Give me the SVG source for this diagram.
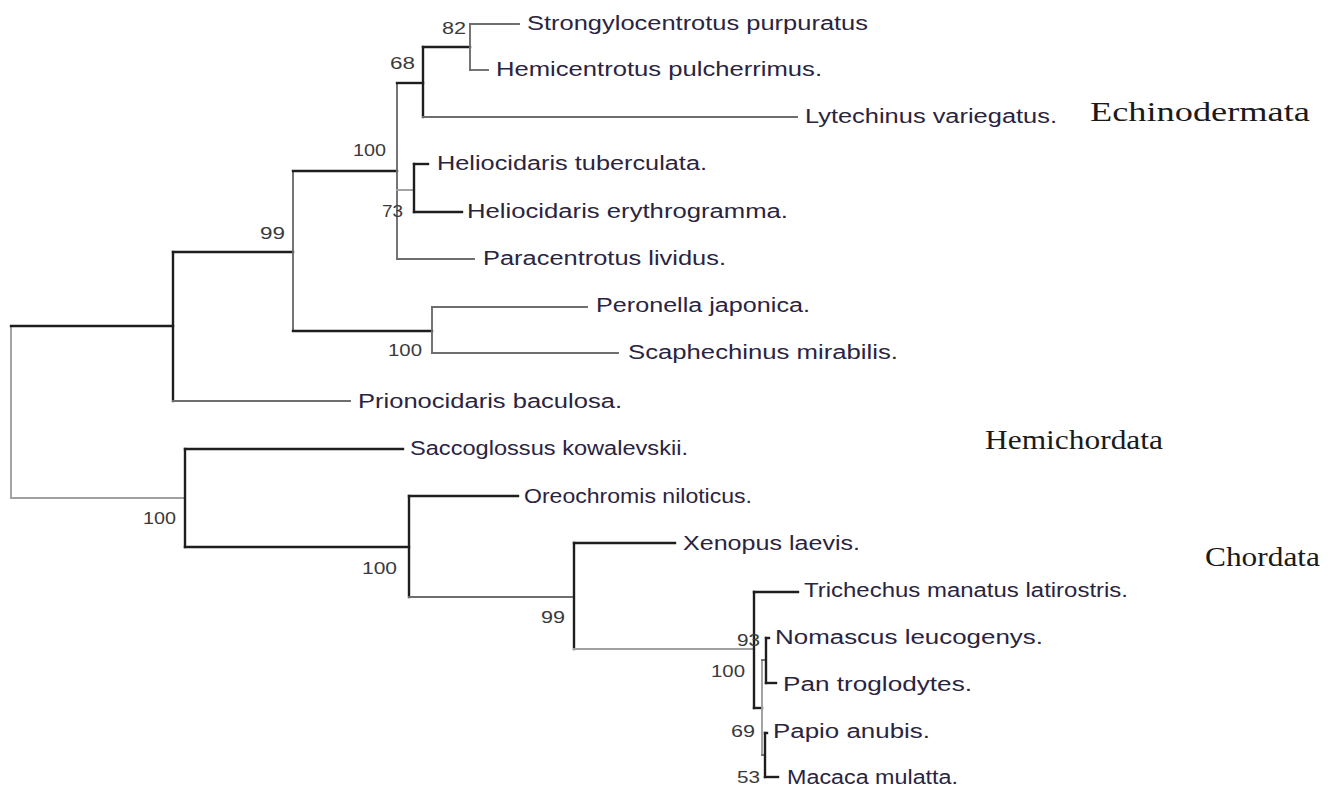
<svg xmlns="http://www.w3.org/2000/svg" width="1338" height="791" viewBox="0 0 1338 791">
<style>
.d{stroke:#1e1e1e;stroke-width:2.4;fill:none}
.g{stroke:#6e6e6e;stroke-width:1.9;fill:none}
.l{stroke:#a0a0a0;stroke-width:1.9;fill:none}
.t{font-family:"Liberation Sans",Arial,sans-serif;font-size:20px;fill:#2a2440}
.b{font-family:"Liberation Sans",Arial,sans-serif;font-size:16px;fill:#3a3a3a}
.c{font-family:"Liberation Serif","Times New Roman",serif;font-size:27px;fill:#1a1a1a}
</style>
<rect width="1338" height="791" fill="#ffffff"/>
<g id="connectors" stroke-linecap="square">
<path class="l" d="M11,326V498"/>
<path class="d" d="M11,326H173"/>
<path class="d" d="M173,252V401"/>
<path class="d" d="M173,252H293"/>
<path class="g" d="M293,171V331"/>
<path class="d" d="M293,171H397"/>
<path class="g" d="M397,83V259"/>
<path class="d" d="M397,83H423"/>
<path class="d" d="M423,47V117"/>
<path class="d" d="M423,47H470"/>
<path class="g" d="M470,24V70"/>
<path class="g" d="M470,24H519"/>
<path class="g" d="M470,70H488"/>
<path class="g" d="M423,117H797"/>
<path class="l" d="M397,190H414"/>
<path class="d" d="M414,164V212"/>
<path class="d" d="M414,164H428"/>
<path class="d" d="M414,212H462"/>
<path class="g" d="M397,259H474"/>
<path class="d" d="M293,331H432"/>
<path class="g" d="M432,307V353"/>
<path class="g" d="M432,307H587"/>
<path class="g" d="M432,353H618"/>
<path class="g" d="M173,401H350"/>
<path class="l" d="M11,498H185"/>
<path class="d" d="M185,449V547"/>
<path class="d" d="M185,449H403"/>
<path class="d" d="M185,547H409"/>
<path class="d" d="M409,496V597"/>
<path class="d" d="M409,496H518"/>
<path class="g" d="M409,597H574"/>
<path class="d" d="M574,543V649"/>
<path class="d" d="M574,543H675"/>
<path class="l" d="M574,649H754"/>
<path class="d" d="M754,592V708"/>
<path class="d" d="M754,592H798"/>
<path class="d" d="M754,708H762"/>
<path class="l" d="M762,660V755"/>
<path class="g" d="M762,660H766"/>
<path class="d" d="M766,638V683"/>
<path class="d" d="M766,638H769"/>
<path class="d" d="M766,683H776"/>
<path class="g" d="M762,755H765"/>
<path class="d" d="M765,733V777"/>
<path class="d" d="M765,733H767"/>
<path class="d" d="M765,777H778"/>
</g>
<g id="leaf-strongylocentrotus"><text class="t" x="527" y="30" textLength="341" lengthAdjust="spacingAndGlyphs">Strongylocentrotus purpuratus</text></g>
<g id="leaf-hemicentrotus"><text class="t" x="496" y="76" textLength="326" lengthAdjust="spacingAndGlyphs">Hemicentrotus pulcherrimus.</text></g>
<g id="leaf-lytechinus"><text class="t" x="805" y="123" textLength="252" lengthAdjust="spacingAndGlyphs">Lytechinus variegatus.</text></g>
<g id="leaf-heliocidaris-t"><text class="t" x="437" y="170" textLength="270" lengthAdjust="spacingAndGlyphs">Heliocidaris tuberculata.</text></g>
<g id="leaf-heliocidaris-e"><text class="t" x="467" y="218" textLength="321" lengthAdjust="spacingAndGlyphs">Heliocidaris erythrogramma.</text></g>
<g id="leaf-paracentrotus"><text class="t" x="483" y="265" textLength="243" lengthAdjust="spacingAndGlyphs">Paracentrotus lividus.</text></g>
<g id="leaf-peronella"><text class="t" x="596" y="312" textLength="214" lengthAdjust="spacingAndGlyphs">Peronella japonica.</text></g>
<g id="leaf-scaphechinus"><text class="t" x="628" y="359" textLength="270" lengthAdjust="spacingAndGlyphs">Scaphechinus mirabilis.</text></g>
<g id="leaf-prionocidaris"><text class="t" x="358" y="408" textLength="264" lengthAdjust="spacingAndGlyphs">Prionocidaris baculosa.</text></g>
<g id="leaf-saccoglossus"><text class="t" x="410" y="455" textLength="278" lengthAdjust="spacingAndGlyphs">Saccoglossus kowalevskii.</text></g>
<g id="leaf-oreochromis"><text class="t" x="524" y="503" textLength="228" lengthAdjust="spacingAndGlyphs">Oreochromis niloticus.</text></g>
<g id="leaf-xenopus"><text class="t" x="683" y="550" textLength="177" lengthAdjust="spacingAndGlyphs">Xenopus laevis.</text></g>
<g id="leaf-trichechus"><text class="t" x="804" y="597" textLength="324" lengthAdjust="spacingAndGlyphs">Trichechus manatus latirostris.</text></g>
<g id="leaf-nomascus"><text class="t" x="775" y="644" textLength="268" lengthAdjust="spacingAndGlyphs">Nomascus leucogenys.</text></g>
<g id="leaf-pan"><text class="t" x="783" y="691" textLength="189" lengthAdjust="spacingAndGlyphs">Pan troglodytes.</text></g>
<g id="leaf-papio"><text class="t" x="773" y="738" textLength="157" lengthAdjust="spacingAndGlyphs">Papio anubis.</text></g>
<g id="leaf-macaca"><text class="t" x="787" y="784" textLength="171" lengthAdjust="spacingAndGlyphs">Macaca mulatta.</text></g>
<g id="node-82"><text class="b" x="442" y="34" textLength="24" lengthAdjust="spacingAndGlyphs">82</text></g>
<g id="node-68"><text class="b" x="390" y="69" textLength="25" lengthAdjust="spacingAndGlyphs">68</text></g>
<g id="node-100a"><text class="b" x="353" y="156" textLength="33" lengthAdjust="spacingAndGlyphs">100</text></g>
<g id="node-73"><text class="b" x="382" y="217" textLength="21" lengthAdjust="spacingAndGlyphs">73</text></g>
<g id="node-99a"><text class="b" x="260" y="239" textLength="25" lengthAdjust="spacingAndGlyphs">99</text></g>
<g id="node-100b"><text class="b" x="388" y="356" textLength="34" lengthAdjust="spacingAndGlyphs">100</text></g>
<g id="node-100c"><text class="b" x="143" y="524" textLength="33" lengthAdjust="spacingAndGlyphs">100</text></g>
<g id="node-100d"><text class="b" x="362" y="574" textLength="35" lengthAdjust="spacingAndGlyphs">100</text></g>
<g id="node-99b"><text class="b" x="541" y="623" textLength="24" lengthAdjust="spacingAndGlyphs">99</text></g>
<g id="node-93"><text class="b" x="737" y="646" textLength="23" lengthAdjust="spacingAndGlyphs">93</text></g>
<g id="node-100e"><text class="b" x="711" y="677" textLength="34" lengthAdjust="spacingAndGlyphs">100</text></g>
<g id="node-69"><text class="b" x="731" y="737" textLength="24" lengthAdjust="spacingAndGlyphs">69</text></g>
<g id="node-53"><text class="b" x="737" y="783" textLength="23" lengthAdjust="spacingAndGlyphs">53</text></g>
<g id="clade-echinodermata"><text class="c" x="1090" y="121" textLength="220" lengthAdjust="spacingAndGlyphs">Echinodermata</text></g>
<g id="clade-hemichordata"><text class="c" x="985" y="449" textLength="178" lengthAdjust="spacingAndGlyphs">Hemichordata</text></g>
<g id="clade-chordata"><text class="c" x="1205" y="566" textLength="115" lengthAdjust="spacingAndGlyphs">Chordata</text></g>
</svg>
